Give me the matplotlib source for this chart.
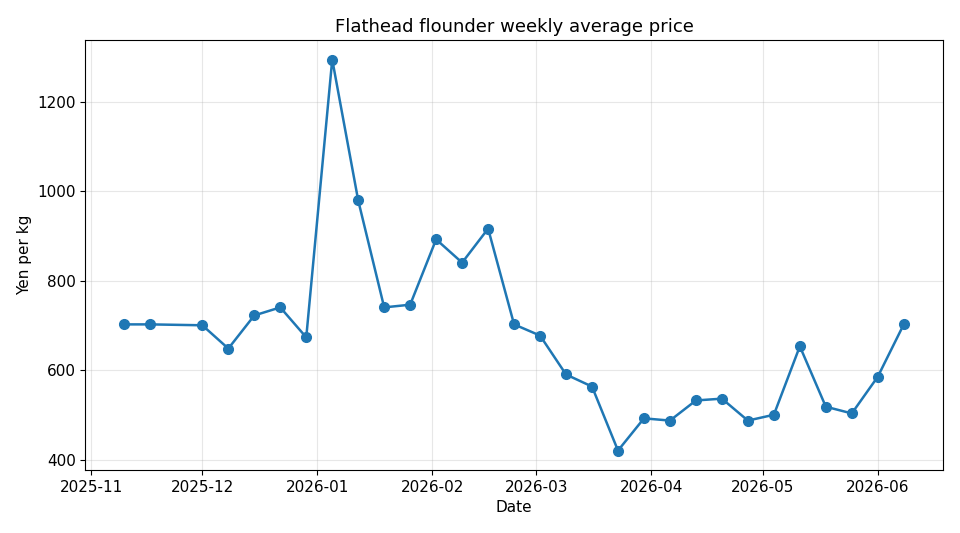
import matplotlib
matplotlib.use("Agg")
import matplotlib.pyplot as plt
import matplotlib.dates as mdates
import pandas as pd

dates = ["2025-11-10", "2025-11-17", "2025-12-01", "2025-12-08", "2025-12-15",
         "2025-12-22", "2025-12-29", "2026-01-05", "2026-01-12", "2026-01-19",
         "2026-01-26", "2026-02-02", "2026-02-09", "2026-02-16", "2026-02-23",
         "2026-03-02", "2026-03-09", "2026-03-16", "2026-03-23", "2026-03-30",
         "2026-04-06", "2026-04-13", "2026-04-20", "2026-04-27", "2026-05-04",
         "2026-05-11", "2026-05-18", "2026-05-25", "2026-06-01", "2026-06-08"]
prices = [702, 702, 700, 648, 722, 740, 673, 1294, 979, 740,
          746, 892, 840, 916, 702, 677, 590, 563, 420, 492,
          487, 532, 536, 487, 500, 653, 518, 503, 585, 702]

x = pd.to_datetime(dates)

fig, ax = plt.subplots(figsize=(9.6, 5.33), dpi=100)
ax.plot(x, prices, marker="o", color="#1f77b4", linewidth=1.8, markersize=7)
ax.set_title("Flathead flounder weekly average price", fontsize=13)
ax.set_xlabel("Date", fontsize=11)
ax.set_ylabel("Yen per kg", fontsize=11)
ax.grid(True, alpha=0.3)
ax.xaxis.set_major_locator(mdates.MonthLocator())
ax.xaxis.set_major_formatter(mdates.DateFormatter("%Y-%m"))
ax.tick_params(labelsize=11)
fig.subplots_adjust(left=0.089, right=0.982, top=0.925, bottom=0.118)
fig.savefig("out.png", dpi=100)
